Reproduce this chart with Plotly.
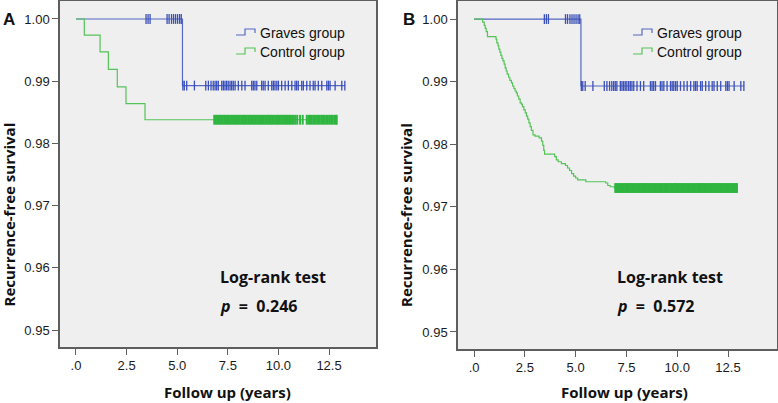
import plotly.graph_objects as go

W, H = 778, 403

# ---------------- data ----------------
# Graves group (same in both panels)
graves_times = [0.0, 5.26]
graves_surv = [1.000, 0.9893]
graves_end = 13.30
graves_cens_top = [3.46, 3.56, 3.66, 4.50, 4.60, 4.72, 4.82, 4.92, 5.02, 5.12, 5.20]
graves_cens_low = [5.28, 5.35, 5.47, 5.85, 6.41, 6.54, 6.67, 6.78, 6.87, 6.95, 7.03,
                   7.20, 7.28, 7.36, 7.44, 7.52, 7.61, 7.69, 7.77, 7.86, 8.02, 8.19,
                   8.35, 8.68, 8.76, 8.84, 8.93, 9.17, 9.25, 9.34, 9.50, 9.67, 9.75,
                   9.83, 9.92, 10.00, 10.16, 10.33, 10.49, 10.66, 10.82, 10.90, 10.98,
                   11.15, 11.23, 11.40, 11.56, 11.72, 11.81, 11.97, 12.14, 12.39, 12.47,
                   12.55, 12.80, 13.13, 13.28]

# Control group, panel A
ctrlA_times = [0.0, 0.41, 1.19, 1.60, 2.04, 2.47, 3.41]
ctrlA_surv = [1.000, 0.9974, 0.9947, 0.9919, 0.9891, 0.9864, 0.9838]
ctrlA_end = 12.88
ctrlA_cens = [6.83, 6.90, 6.97, 7.04, 7.11, 7.18, 7.25, 7.32, 7.39, 7.46, 7.53, 7.60,
              7.67, 7.74, 7.81, 7.88, 7.95, 8.02, 8.09, 8.16, 8.23, 8.30, 8.37, 8.44,
              8.51, 8.58, 8.65, 8.72, 8.79, 8.86, 8.93, 9.00, 9.07, 9.14, 9.21, 9.28,
              9.35, 9.42, 9.49, 9.56, 9.63, 9.70, 9.77, 9.84, 9.91, 9.98, 10.05, 10.12,
              10.19, 10.26, 10.33, 10.40, 10.47, 10.54, 10.61, 10.68, 10.76, 10.84,
              10.93, 11.07, 11.20, 11.40, 11.48, 11.56, 11.64, 11.72, 11.80, 11.88,
              11.96, 12.04, 12.12, 12.20, 12.28, 12.36, 12.44, 12.52, 12.60, 12.68,
              12.76, 12.84, 12.88]

# Control group, panel B
ctrlB_times = [0.0, 0.42, 0.50, 0.55, 0.60, 0.66, 1.08, 1.12, 1.18, 1.22, 1.27, 1.32,
               1.37, 1.42, 1.48, 1.53, 1.58, 1.63, 1.70, 1.76, 1.84, 1.90, 1.96, 2.02,
               2.08, 2.13, 2.20, 2.27, 2.33, 2.38, 2.45, 2.52, 2.58, 2.64, 2.70, 2.76,
               2.82, 2.90, 3.00, 3.20, 3.32, 3.38, 3.43, 3.47, 3.97, 4.05, 4.14, 4.30,
               4.50, 4.60, 4.70, 4.80, 4.90, 5.00, 5.10, 5.50, 6.48, 6.58, 6.70, 6.90]
ctrlB_surv = [1.0000, 0.9995, 0.9990, 0.9985, 0.9980, 0.9972, 0.9968, 0.9962, 0.9957,
              0.9952, 0.9947, 0.9942, 0.9937, 0.9933, 0.9928, 0.9922, 0.9917, 0.9912,
              0.9907, 0.9902, 0.9898, 0.9893, 0.9889, 0.9885, 0.9882, 0.9877, 0.9872,
              0.9866, 0.9864, 0.9860, 0.9855, 0.9850, 0.9845, 0.9840, 0.9834, 0.9828,
              0.9822, 0.9815, 0.9813, 0.9810, 0.9805, 0.9798, 0.9790, 0.9784, 0.9780,
              0.9775, 0.9772, 0.9769, 0.9766, 0.9762, 0.9758, 0.9753, 0.9749, 0.9746,
              0.9743, 0.9740, 0.9738, 0.9734, 0.9732, 0.9730]
ctrlB_end = 12.95
ctrlB_cens = [6.95, 7.01, 7.07, 7.13, 7.19, 7.25, 7.31, 7.37, 7.43, 7.49, 7.55, 7.61,
              7.67, 7.73, 7.79, 7.85, 7.91, 7.97, 8.03, 8.09, 8.15, 8.21, 8.27, 8.33,
              8.39, 8.45, 8.51, 8.57, 8.63, 8.69, 8.75, 8.81, 8.87, 8.93, 8.99, 9.05,
              9.11, 9.17, 9.23, 9.29, 9.35, 9.41, 9.47, 9.53, 9.59, 9.65, 9.71, 9.77,
              9.83, 9.89, 9.95, 10.01, 10.07, 10.13, 10.19, 10.25, 10.31, 10.37, 10.43,
              10.49, 10.55, 10.61, 10.67, 10.73, 10.79, 10.85, 10.91, 10.97, 11.03,
              11.09, 11.15, 11.21, 11.27, 11.33, 11.39, 11.45, 11.51, 11.57, 11.63,
              11.69, 11.75, 11.81, 11.87, 11.93, 11.99, 12.05, 12.11, 12.17, 12.23,
              12.29, 12.35, 12.41, 12.47, 12.53, 12.59, 12.65, 12.71, 12.77, 12.83,
              12.89, 12.94]

x_tickvals = [0, 2.5, 5.0, 7.5, 10.0, 12.5]
x_ticktext = [".0", "2.5", "5.0", "7.5", "10.0", "12.5"]
y_tickvals = [1.00, 0.99, 0.98, 0.97, 0.96, 0.95]
y_ticktext = ["1.00", "0.99", "0.98", "0.97", "0.96", "0.95"]
p_values = ["0.246", "0.572"]
group_names = ["Graves group", "Control group"]

BLUE = "#5468c4"
BLUE_C = "#3a4fb8"
GREEN = "#55c458"
GREEN_C = "#2fb540"
BG = "#efefef"
FRAME = "#5e5e5e"


def step_xy(times, surv, end):
    return list(times) + [end], list(surv) + [surv[-1]]


fig = go.Figure()

panels = [
    ("x", "y", ctrlA_times, ctrlA_surv, ctrlA_end, ctrlA_cens),
    ("x2", "y2", ctrlB_times, ctrlB_surv, ctrlB_end, ctrlB_cens),
]
for xa, ya, ct, cs, ce, cc in panels:
    gx, gy = step_xy(graves_times, graves_surv, graves_end)
    fig.add_trace(go.Scatter(x=gx, y=gy, mode="lines", line=dict(color=BLUE, width=1.2, shape="hv"),
                             xaxis=xa, yaxis=ya, showlegend=False, hoverinfo="skip"))
    cx, cy = step_xy(ct, cs, ce)
    fig.add_trace(go.Scatter(x=cx, y=cy, mode="lines", line=dict(color=GREEN, width=1.2, shape="hv"),
                             xaxis=xa, yaxis=ya, showlegend=False, hoverinfo="skip"))
    fig.add_trace(go.Scatter(x=graves_cens_top, y=[graves_surv[0]] * len(graves_cens_top), mode="markers",
                             marker=dict(symbol="line-ns", size=7, line=dict(color=BLUE_C, width=1.3)),
                             xaxis=xa, yaxis=ya, showlegend=False, hoverinfo="skip"))
    fig.add_trace(go.Scatter(x=graves_cens_low, y=[graves_surv[-1]] * len(graves_cens_low), mode="markers",
                             marker=dict(symbol="line-ns", size=7, line=dict(color=BLUE_C, width=1.3)),
                             xaxis=xa, yaxis=ya, showlegend=False, hoverinfo="skip"))
    fig.add_trace(go.Scatter(x=cc, y=[cs[-1]] * len(cc), mode="markers",
                             marker=dict(symbol="line-ns", size=7, line=dict(color=GREEN_C, width=2)),
                             xaxis=xa, yaxis=ya, showlegend=False, hoverinfo="skip"))


def px(x):
    return x / W


def py(y):
    return 1 - y / H


tickfont = dict(family="Liberation Sans, Arial", size=13, color="#1a1a1a")
axis_common = dict(showgrid=False, zeroline=False, showline=True, linecolor=FRAME, linewidth=1.5,
                   mirror=True, ticks="outside", ticklen=6, tickcolor=FRAME, tickwidth=1,
                   tickfont=tickfont, fixedrange=True)

fig.update_layout(
    width=W, height=H, margin=dict(l=0, r=0, t=0, b=0),
    paper_bgcolor="white", plot_bgcolor=BG,
    xaxis=dict(domain=[px(60), px(376)], range=[-0.79, 14.82], anchor="y",
               tickvals=x_tickvals, ticktext=x_ticktext, **axis_common),
    yaxis=dict(domain=[py(347), py(1)], range=[0.94727, 1.00289], anchor="x",
               tickvals=y_tickvals, ticktext=y_ticktext, **axis_common),
    xaxis2=dict(domain=[px(458), px(777)], range=[-0.79, 14.91], anchor="y2",
                tickvals=x_tickvals, ticktext=x_ticktext, **axis_common),
    yaxis2=dict(domain=[py(349), py(1)], range=[0.94728, 1.00288], anchor="x2",
                tickvals=y_tickvals, ticktext=y_ticktext, **axis_common),
    showlegend=False,
)

title_font = dict(family="Open Sans", size=15, color="#111111")
ann = []
shapes = []
panel_geo = [
    # label x, ytitle x, xtitle x, logrank x, legend sym x
    ("A", 8.5, 8.5, 227.5, 218, 236),
    ("B", 409, 406, 624.7, 615, 633),
]
for i, (lab, labx, ytx, xtx, lrx, lgx) in enumerate(panel_geo):
    ann.append(dict(x=px(labx), y=py(19), xref="paper", yref="paper", text="<b>" + lab + "</b>",
                    showarrow=False, font=dict(family="Liberation Sans, Arial", size=17, color="#111"),
                    xanchor="center", yanchor="middle"))
    ann.append(dict(x=px(ytx), y=py(215), xref="paper", yref="paper", text="<b>Recurrence-free survival</b>",
                    textangle=-90, showarrow=False, font=title_font, xanchor="center", yanchor="middle"))
    ann.append(dict(x=px(xtx), y=py(392), xref="paper", yref="paper", text="<b>Follow up (years)</b>",
                    showarrow=False, font=title_font, xanchor="center", yanchor="middle"))
    ann.append(dict(x=px(lrx), y=py(277), xref="paper", yref="paper", text="<b>Log-rank test</b>",
                    showarrow=False, font=dict(family="Open Sans", size=16, color="#111"),
                    xanchor="left", yanchor="middle"))
    ann.append(dict(x=px(lrx), y=py(306), xref="paper", yref="paper",
                    text="<b><i>p</i>&nbsp;&nbsp;=&nbsp;&nbsp;" + p_values[i] + "</b>",
                    showarrow=False, font=dict(family="Open Sans", size=16, color="#111"),
                    xanchor="left", yanchor="middle"))
    for j, (name, col) in enumerate(zip(group_names, [BLUE, GREEN])):
        yb = 35 + 19 * j
        path = "M {:.5f},{:.5f} L {:.5f},{:.5f} L {:.5f},{:.5f} L {:.5f},{:.5f} L {:.5f},{:.5f}".format(
            px(lgx), py(yb), px(lgx + 9), py(yb), px(lgx + 9), py(yb - 6), px(lgx + 19), py(yb - 6),
            px(lgx + 19), py(yb - 2))
        shapes.append(dict(type="path", path=path, xref="paper", yref="paper",
                           line=dict(color=col, width=1.2)))
        ann.append(dict(x=px(lgx + 22), y=py(yb - 2), xref="paper", yref="paper", text=name,
                        showarrow=False, font=dict(family="Liberation Sans, Arial", size=14, color="#111"),
                        xanchor="left", yanchor="middle"))

fig.update_layout(annotations=ann, shapes=shapes)
fig.write_html("out.html", config={"displayModeBar": False},
               post_script="document.body.style.margin='0';document.body.style.overflow='hidden';")
